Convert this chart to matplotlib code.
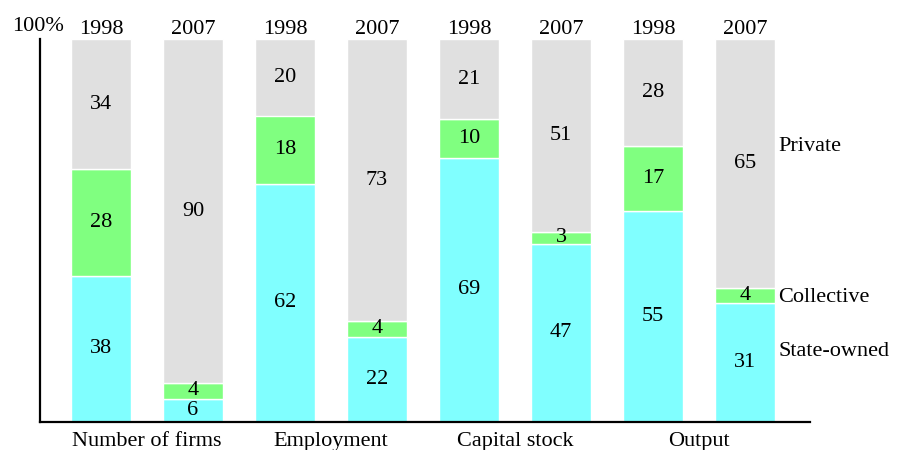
import numpy as np
import matplotlib.pyplot as plt

# datos (porcentajes)
groups = ['Number of firms', 'Employment', 'Capital stock', 'Output']
years = ['1998', '2007'] * 4
state = [38, 6, 62, 22, 69, 47, 55, 31]
collective = [28, 4, 18, 4, 10, 3, 17, 4]
private = [34, 90, 20, 73, 21, 51, 28, 65]

c_state = '#80FFFF'
c_coll = '#80FF80'
c_priv = '#E0E0E0'

plt.rcParams['font.family'] = ['Liberation Serif', 'DejaVu Serif']
fs = 16

fig = plt.figure(figsize=(9.01, 4.5), dpi=100)
ax = fig.add_axes([40/901, 1 - 421.5/450, 770/901, (421.5 - 39)/450])

x = np.arange(len(state))
w = 60/92
tot = np.array(state) + np.array(collective) + np.array(private)
s = np.array(state) / tot * 100
c = np.array(collective) / tot * 100
p = np.array(private) / tot * 100

ax.bar(x, s, w, color=c_state, edgecolor='white', linewidth=1)
ax.bar(x, c, w, bottom=s, color=c_coll, edgecolor='white', linewidth=1)
ax.bar(x, p, w, bottom=s + c, color=c_priv, edgecolor='white', linewidth=1)

for i in range(len(x)):
    ax.text(x[i], s[i]/2, str(state[i]), ha='center', va='center', fontsize=fs)
    ax.text(x[i], s[i] + c[i]/2, str(collective[i]), ha='center', va='center', fontsize=fs)
    ax.text(x[i], s[i] + c[i] + p[i]/2, str(private[i]), ha='center', va='center', fontsize=fs)
    ax.text(x[i], 102.6, years[i], ha='center', va='center', fontsize=fs, clip_on=False)

for j, g in enumerate(groups):
    ax.text(2*j + 0.5, -5.3, g, ha='center', va='center', fontsize=fs, clip_on=False)

ax.text(-0.68, 103.2, '100%', ha='center', va='center', fontsize=fs, clip_on=False)

# etiquetas a la derecha
ax.text(7.36, 72, 'Private', ha='left', va='center', fontsize=fs, clip_on=False)
ax.text(7.36, 32.5, 'Collective', ha='left', va='center', fontsize=fs, clip_on=False)
ax.text(7.36, 18.3, 'State-owned', ha='left', va='center', fontsize=fs, clip_on=False)

ax.set_xlim(-0.663, 7.707)
ax.set_ylim(0, 100)
ax.spines['top'].set_visible(False)
ax.spines['right'].set_visible(False)
ax.spines['left'].set_linewidth(1.6)
ax.spines['bottom'].set_linewidth(1.6)
ax.set_xticks([])
ax.set_yticks([])

fig.savefig('out.png', dpi=100)
